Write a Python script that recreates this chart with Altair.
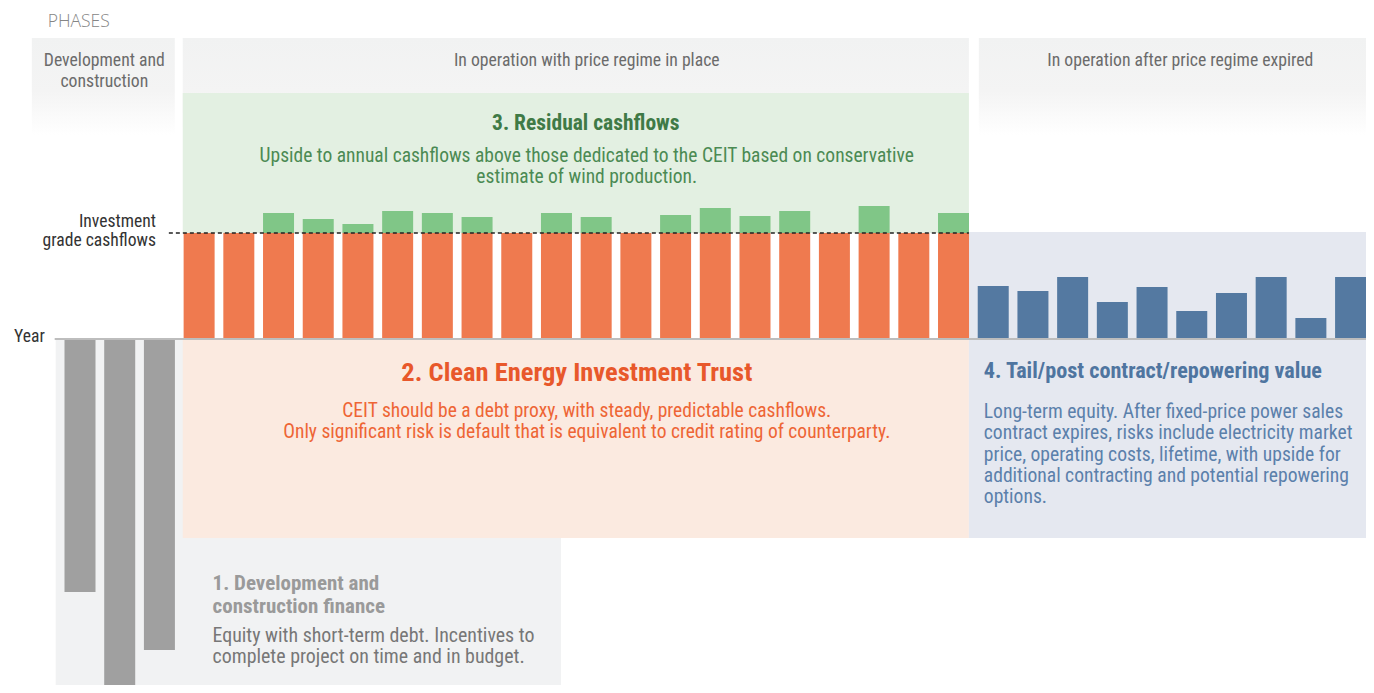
import altair as alt
import pandas as pd

# ---------------- data ----------------
dev_years = [1, 2, 3]
dev_values = [-253, -349, -311]

ceit_years = [4, 5, 6, 7, 8, 9, 10, 11, 12, 13, 14, 15, 16, 17, 18, 19, 20, 21, 22, 23]
ceit_values = [106, 106, 106, 106, 106, 106, 106, 106, 106, 106,
               106, 106, 106, 106, 106, 106, 106, 106, 106, 106]
residual_values = [0, 0, 20, 14, 9, 22, 20, 16, 0, 20,
                   16, 0, 18, 25, 17, 22, 0, 27, 0, 20]

tail_years = [24, 25, 26, 27, 28, 29, 30, 31, 32, 33]
tail_values = [53, 48, 62, 37, 52, 28, 46, 62, 21, 62]

investment_grade = 106

# ---------------- layout helpers ----------------
W, H = 1358, 677
FONT = "Roboto Condensed, DejaVu Sans Condensed, sans-serif"


def dx(sx):
    return (sx - 35.5) / 40.0


def dy(sy):
    return 339 - sy


XS = alt.Scale(domain=[dx(8), dx(8 + W)], nice=False, zero=False)
YS = alt.Scale(domain=[dy(8 + H), dy(8)], nice=False, zero=False)


def X(f="x"):
    return alt.X(f, type="quantitative", scale=XS, axis=None)


def Y(f="y"):
    return alt.Y(f, type="quantitative", scale=YS, axis=None)


# ---------------- background panels ----------------
grad = alt.LinearGradient(
    gradient="linear",
    stops=[alt.GradientStop(color="#f1f2f2", offset=0),
           alt.GradientStop(color="#f4f4f4", offset=0.55),
           alt.GradientStop(color="#ffffff", offset=1)],
    x1=0, x2=0, y1=0, y2=1)

headers = pd.DataFrame({
    "x": [dx(27), dx(179), dx(981)],
    "x2": [dx(171), dx(971), dx(1374)],
    "y": [dy(38)] * 3,
    "y2": [dy(135)] * 3,
})
header_layer = alt.Chart(headers).mark_rect(color=grad).encode(
    x=X(), x2="x2", y=Y(), y2="y2")


def panel(x0, x1, y0, y1, color):
    df = pd.DataFrame({"x": [dx(x0)], "x2": [dx(x1)], "y": [dy(y0)], "y2": [dy(y1)]})
    return alt.Chart(df).mark_rect(color=color).encode(x=X(), x2="x2", y=Y(), y2="y2")


green_bg = panel(179, 971, 93, 233, "#e3f0e2")
grey_bg = panel(51, 560, 339, 700, "#f1f2f3")
orange_bg = panel(179, 971, 339, 538, "#fbeae0")
blue_bg = panel(971, 1374, 232, 538, "#e5e8f0")

# ---------------- bars ----------------
dev_df = pd.DataFrame({"x": dev_years, "y": dev_values, "y2": [0] * len(dev_years)})
ceit_df = pd.DataFrame({"x": ceit_years, "y": ceit_values, "y2": [0] * len(ceit_years)})
res_df = pd.DataFrame({"x": ceit_years,
                       "y": [c + r for c, r in zip(ceit_values, residual_values)],
                       "y2": ceit_values,
                       "r": residual_values})
res_df = res_df[res_df["r"] > 0]
tail_df = pd.DataFrame({"x": tail_years, "y": tail_values, "y2": [0] * len(tail_years)})


def bars(df, color):
    return alt.Chart(df).mark_bar(width=31, color=color).encode(x=X(), y=Y(), y2="y2")


dev_bars = bars(dev_df, "#a0a0a0")
ceit_bars = bars(ceit_df, "#ef7a4f")
res_bars = bars(res_df, "#80c687")
tail_bars = bars(tail_df, "#5479a1")

# ---------------- rules ----------------
dash_df = pd.DataFrame({"x": [dx(165)], "x2": [dx(971)], "y": [investment_grade]})
dash_rule = alt.Chart(dash_df).mark_rule(color="#222222", strokeDash=[4, 3], strokeWidth=1.3).encode(
    x=X(), x2="x2", y=Y())

axis_df = pd.DataFrame({"x": [dx(50)], "x2": [dx(1374)], "y": [0]})
axis_rule = alt.Chart(axis_df).mark_rule(color="#bdbdbd", strokeWidth=2).encode(
    x=X(), x2="x2", y=Y())

# ---------------- text ----------------


def texts(rows, size, color, align="center", weight="normal", font=FONT):
    df = pd.DataFrame({"x": [dx(r[1]) for r in rows],
                       "y": [dy(r[2]) for r in rows],
                       "t": [r[0] for r in rows]})
    return alt.Chart(df).mark_text(
        font=font, fontSize=size, color=color, align=align, baseline="middle",
        fontWeight=weight).encode(x=X(), y=Y(), text="t:N")


phases_t = texts([("PHASES", 43, 22)], 17.5, "#858585", align="left", font="Open Sans", weight=300)
header_t = texts([("Development and", 100, 61), ("construction", 100, 82),
                  ("In operation with price regime in place", 586, 61),
                  ("In operation after price regime expired", 1184, 61)], 17.7, "#6b6b6b")

green_title = texts([("3. Residual cashflows", 585, 124)], 21.5, "#3f7a46", weight="bold")
green_body = texts([("Upside to annual cashflows above those dedicated to the CEIT based on conservative", 586, 156),
                    ("estimate of wind production.", 586, 177)], 19.5, "#4b8a53")

axis_t = texts([("Investment", 152, 222), ("grade cashflows", 152, 241), ("Year", 40, 337)],
               17.6, "#333333", align="right")

orange_title = texts([("2. Clean Energy Investment Trust", 576, 373)], 26.5, "#e8582b", weight="bold")
orange_body = texts([("CEIT should be a debt proxy, with steady, predictable cashflows.", 586, 411),
                     ("Only significant risk is default that is equivalent to credit rating of counterparty.", 586, 432)],
                    19.5, "#ee6535")

blue_title = texts([("4. Tail/post contract/repowering value", 986, 371)], 22.2, "#4f75a0",
                   align="left", weight="bold")
blue_body = texts([("Long-term equity. After fixed-price power sales", 986, 412),
                   ("contract expires, risks include electricity market", 986, 433),
                   ("price, operating costs, lifetime, with upside for", 986, 455),
                   ("additional contracting and potential repowering", 986, 476),
                   ("options.", 986, 497)], 19.6, "#5b80ab", align="left")

grey_title = texts([("1. Development and", 209, 584), ("construction finance", 209, 607)],
                   21, "#9a9a9a", align="left", weight="bold")
grey_body = texts([("Equity with short-term debt. Incentives to", 209, 636),
                   ("complete project on time and in budget.", 209, 657)], 19.9, "#777777", align="left")

chart = alt.layer(
    header_layer, green_bg, grey_bg, orange_bg, blue_bg,
    dev_bars, ceit_bars, res_bars, tail_bars,
    dash_rule, axis_rule,
    phases_t, header_t, green_title, green_body, axis_t,
    orange_title, orange_body, blue_title, blue_body, grey_title, grey_body,
).properties(
    width=W, height=H, padding=0,
    autosize=alt.AutoSizeParams(type="none"),
).configure_view(stroke=None)

chart.save("out.html", embed_options={"renderer": "svg", "actions": False})
